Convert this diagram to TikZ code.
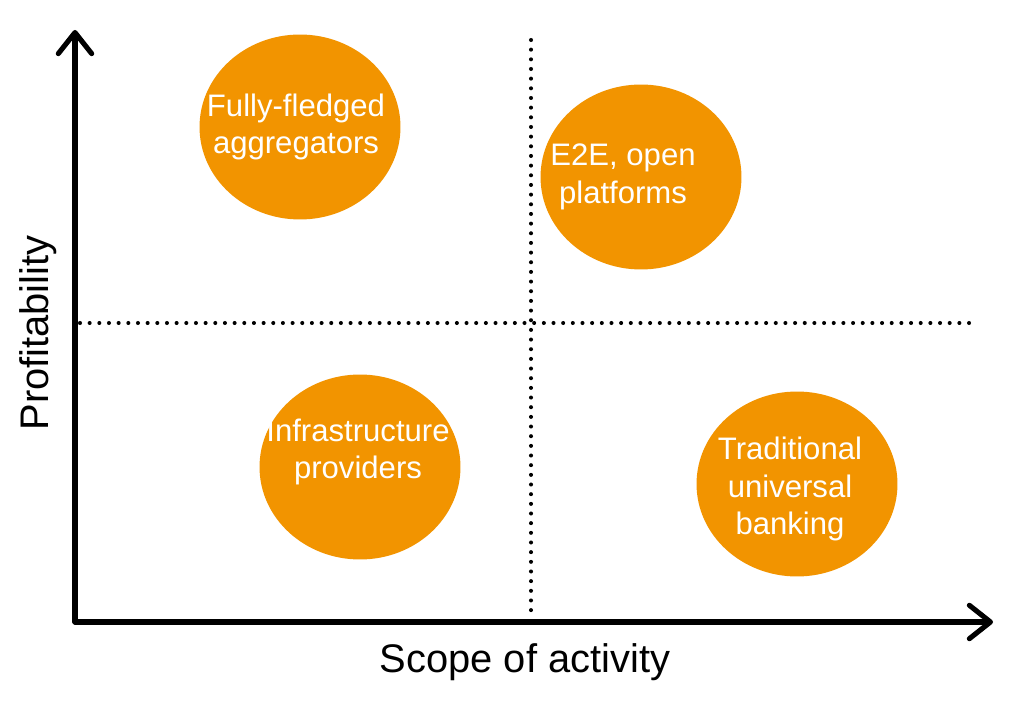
\documentclass[tikz,border=0pt]{standalone}
\usepackage{fontspec}
\setmainfont{Liberation Sans}
\usetikzlibrary{arrows.meta,shapes.geometric}
\definecolor{orng}{HTML}{F29400}
\begin{document}
\begin{tikzpicture}[x=0.02cm,y=-0.02cm,
  axis/.style={line width=2.9pt,line cap=round,line join=round,-{Straight Barb[length=12pt,width=19pt,line cap=round,line join=round]}},
  dotline/.style={line width=2.3pt,line cap=round,dash pattern=on 0pt off 5.5pt},
  blob/.style={ellipse,fill=orng,draw=none,minimum width=4.02cm,minimum height=3.7cm,inner sep=0pt},
  blobtext/.style={text=white,font=\fontsize{17.7}{21.5}\selectfont,align=center,inner sep=0pt},
  axlabel/.style={font=\fontsize{22.7}{26}\selectfont,inner sep=0pt}]
\useasboundingbox (0,0) rectangle (1024,709);
\coordinate (origin) at (75,622);
\coordinate (ytip) at (75,30);
\coordinate (xtip) at (993,622);
\coordinate (hl) at (80,323);
\coordinate (hr) at (975,323);
\coordinate (vt) at (531,40);
\coordinate (vb) at (531,615);
\draw[dotline] (hl) -- (hr);
\draw[dotline] (vt) -- (vb);
\draw[axis] (origin) -- (ytip);
\draw[axis] (origin) -- (xtip);
\node[axlabel] (xl) at (525,662) {Scope of activity};
\node[axlabel,rotate=90] (yl) at (38,333) {Profitability};
\node[blob] (c1) at (300,127) {};
\node[blob] (c2) at (641,177) {};
\node[blob] (c3) at (360,467) {};
\node[blob] (c4) at (797,484) {};
\node[blobtext] (t1) at (296,127) {Fully-fledged\\aggregators};
\node[blobtext] (t2) at (623,177) {E2E, open\\platforms};
\node[blobtext] (t3) at (358,452) {Infrastructure\\providers};
\node[blobtext] (t4) at (790,489) {Traditional\\universal\\banking};
\end{tikzpicture}
\end{document}
